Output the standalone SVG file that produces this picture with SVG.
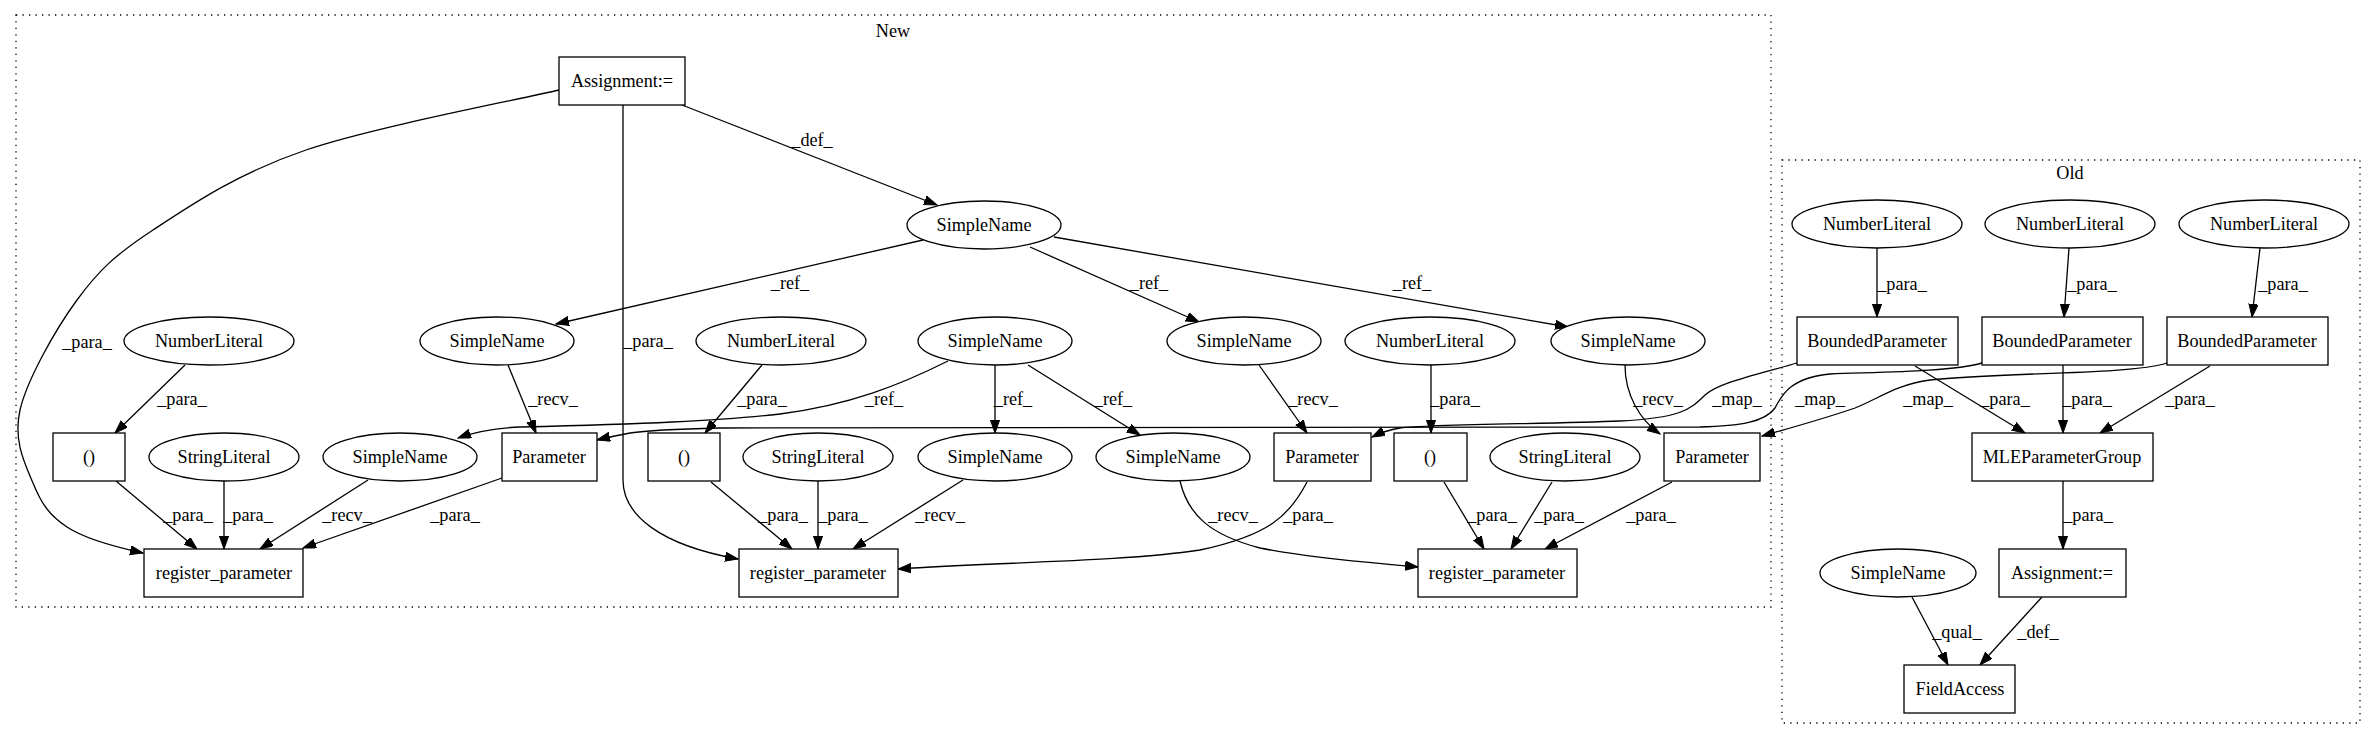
<svg xmlns="http://www.w3.org/2000/svg" width="2376" height="740" viewBox="0 0 2376 740">
<style>
text{font-family:"Liberation Serif","Times New Roman",serif;font-size:18.2px;fill:#000;text-anchor:middle}
.n rect,.n ellipse{fill:#fff;stroke:#000;stroke-width:1.3}
.e path{fill:none;stroke:#000;stroke-width:1.3;marker-end:url(#ah)}
.cl{fill:none;stroke:#000;stroke-width:1.3;stroke-dasharray:1.3,5.2}
</style>
<defs>
<marker id="ah" markerUnits="userSpaceOnUse" markerWidth="14" markerHeight="10" refX="13" refY="4.6" orient="auto">
<path d="M0,0 L13,4.6 L0,9.2 z" fill="#000" stroke="#000" stroke-width="1"/>
</marker>
</defs>
<rect width="2376" height="740" fill="#fff"/>
<g id="cluster_new"><rect class="cl" x="16" y="15" width="1755" height="592"/><text x="893" y="37">New</text></g>
<g id="cluster_old"><rect class="cl" x="1782" y="160" width="578" height="563"/><text x="2070" y="179">Old</text></g>

<g id="edges" class="e">
<path d="M682,105 L937,205"/>
<path d="M559,90 C517,100 374,127 306,150 C238,173 191,205 153,230 C115,255 99,270 77,300 C55,330 27,380 20,410 C13,441 25,464 33,483 C41,503 49,515 67,527 C85,539 120,548 143,553"/>
<path d="M623,105 L623,480 C623,515 660,545 738,559"/>
<path d="M923,240 L556,324"/>
<path d="M1030,247 L1199,322"/>
<path d="M1054,237 L1568,327"/>
<path d="M185,365 L115,433"/>
<path d="M508,365 L536,433"/>
<path d="M762,365 L705,433"/>
<path d="M948,361 C900,385 850,405 780,414 C720,421 640,424 520,427 C495,428 475,432 458,438"/>
<path d="M995,365 L995,433"/>
<path d="M1028,365 L1140,435"/>
<path d="M1259,365 L1307,433"/>
<path d="M1431,365 L1431,433"/>
<path d="M1625,365 C1625,395 1640,420 1660,434"/>
<path d="M116,481 L197,549"/>
<path d="M224,481 L224,549"/>
<path d="M368,480 L260,549"/>
<path d="M502,478 L303,548"/>
<path d="M711,482 L792,549"/>
<path d="M818,481 L818,549"/>
<path d="M963,480 L853,549"/>
<path d="M1307,482 C1290,515 1270,535 1200,550 C1120,562 1000,562 898,569"/>
<path d="M1180,481 C1188,515 1210,535 1260,548 C1320,560 1380,563 1418,567"/>
<path d="M1444,482 L1484,549"/>
<path d="M1552,482 L1511,549"/>
<path d="M1672,482 L1545,549"/>
<path d="M1877,248 L1877,317"/>
<path d="M2069,248 L2064,317"/>
<path d="M2260,248 L2252,317"/>
<path d="M1915,366 L2025,433"/>
<path d="M2063,365 L2063,433"/>
<path d="M2210,366 L2100,433"/>
<path d="M2063,481 L2063,549"/>
<path d="M1912,597 L1948,665"/>
<path d="M2042,597 L1980,665"/>
<path d="M1797,363 C1760,374 1720,382 1705,395 C1690,410 1680,418 1620,421 C1550,424 1430,424 1400,428 C1388,430 1380,433 1372,437"/>
<path d="M1982,363 C1950,372 1880,372 1830,374 C1790,378 1782,395 1775,408 C1765,422 1740,426 1700,427 L720,428 C680,429 650,430 630,433 C615,436 605,438 597,440"/>
<path d="M2167,363 C2130,375 2000,372 1930,380 C1895,385 1880,398 1855,408 C1820,420 1790,428 1762,436"/>
</g>

<g id="edge_labels">
<text x="812" y="146">_def_</text>
<text x="87" y="348">_para_</text>
<text x="648" y="347">_para_</text>
<text x="790" y="289">_ref_</text>
<text x="1149" y="289">_ref_</text>
<text x="1412" y="289">_ref_</text>
<text x="182" y="405">_para_</text>
<text x="553" y="405">_recv_</text>
<text x="762" y="405">_para_</text>
<text x="884" y="405">_ref_</text>
<text x="1013" y="405">_ref_</text>
<text x="1113" y="405">_ref_</text>
<text x="1313" y="405">_recv_</text>
<text x="1455" y="405">_para_</text>
<text x="1658" y="405">_recv_</text>
<text x="1737" y="405">_map_</text>
<text x="1820" y="405">_map_</text>
<text x="1928" y="405">_map_</text>
<text x="188" y="521">_para_</text>
<text x="248" y="521">_para_</text>
<text x="347" y="521">_recv_</text>
<text x="455" y="521">_para_</text>
<text x="783" y="521">_para_</text>
<text x="843" y="521">_para_</text>
<text x="940" y="521">_recv_</text>
<text x="1233" y="521">_recv_</text>
<text x="1308" y="521">_para_</text>
<text x="1492" y="521">_para_</text>
<text x="1559" y="521">_para_</text>
<text x="1651" y="521">_para_</text>
<text x="1902" y="290">_para_</text>
<text x="2092" y="290">_para_</text>
<text x="2283" y="290">_para_</text>
<text x="2005" y="405">_para_</text>
<text x="2087" y="405">_para_</text>
<text x="2190" y="405">_para_</text>
<text x="2088" y="521">_para_</text>
<text x="1957" y="638">_qual_</text>
<text x="2038" y="638">_def_</text>
</g>

<g id="n_assign" class="n"><rect x="559" y="57" width="126" height="48"/><text x="622" y="87">Assignment:=</text></g>
<g id="n_sn_top" class="n"><ellipse cx="984" cy="225" rx="77" ry="24"/><text x="984" y="231">SimpleName</text></g>
<g id="n_nl1" class="n"><ellipse cx="209" cy="341" rx="85" ry="24"/><text x="209" y="347">NumberLiteral</text></g>
<g id="n_sn_a" class="n"><ellipse cx="497" cy="341" rx="77" ry="24"/><text x="497" y="347">SimpleName</text></g>
<g id="n_nl2" class="n"><ellipse cx="781" cy="341" rx="85" ry="24"/><text x="781" y="347">NumberLiteral</text></g>
<g id="n_sn_mid" class="n"><ellipse cx="995" cy="341" rx="77" ry="24"/><text x="995" y="347">SimpleName</text></g>
<g id="n_sn_b" class="n"><ellipse cx="1244" cy="341" rx="77" ry="24"/><text x="1244" y="347">SimpleName</text></g>
<g id="n_nl3" class="n"><ellipse cx="1430" cy="341" rx="85" ry="24"/><text x="1430" y="347">NumberLiteral</text></g>
<g id="n_sn_c" class="n"><ellipse cx="1628" cy="341" rx="77" ry="24"/><text x="1628" y="347">SimpleName</text></g>
<g id="n_call1" class="n"><rect x="53" y="433" width="72" height="48"/><text x="89" y="463">()</text></g>
<g id="n_sl1" class="n"><ellipse cx="224" cy="457" rx="75" ry="24"/><text x="224" y="463">StringLiteral</text></g>
<g id="n_sn_d" class="n"><ellipse cx="400" cy="457" rx="77" ry="24"/><text x="400" y="463">SimpleName</text></g>
<g id="n_param1" class="n"><rect x="502" y="433" width="95" height="48"/><text x="549" y="463">Parameter</text></g>
<g id="n_call2" class="n"><rect x="648" y="433" width="72" height="48"/><text x="684" y="463">()</text></g>
<g id="n_sl2" class="n"><ellipse cx="818" cy="457" rx="75" ry="24"/><text x="818" y="463">StringLiteral</text></g>
<g id="n_sn_e" class="n"><ellipse cx="995" cy="457" rx="77" ry="24"/><text x="995" y="463">SimpleName</text></g>
<g id="n_sn_f" class="n"><ellipse cx="1173" cy="457" rx="77" ry="24"/><text x="1173" y="463">SimpleName</text></g>
<g id="n_param2" class="n"><rect x="1274" y="433" width="97" height="48"/><text x="1322" y="463">Parameter</text></g>
<g id="n_call3" class="n"><rect x="1394" y="433" width="73" height="48"/><text x="1430" y="463">()</text></g>
<g id="n_sl3" class="n"><ellipse cx="1565" cy="457" rx="75" ry="24"/><text x="1565" y="463">StringLiteral</text></g>
<g id="n_param3" class="n"><rect x="1664" y="433" width="96" height="48"/><text x="1712" y="463">Parameter</text></g>
<g id="n_reg1" class="n"><rect x="144" y="549" width="159" height="48"/><text x="224" y="579">register_parameter</text></g>
<g id="n_reg2" class="n"><rect x="739" y="549" width="159" height="48"/><text x="818" y="579">register_parameter</text></g>
<g id="n_reg3" class="n"><rect x="1418" y="549" width="159" height="48"/><text x="1497" y="579">register_parameter</text></g>

<g id="o_nl1" class="n"><ellipse cx="1877" cy="224" rx="85" ry="24"/><text x="1877" y="230">NumberLiteral</text></g>
<g id="o_nl2" class="n"><ellipse cx="2070" cy="224" rx="85" ry="24"/><text x="2070" y="230">NumberLiteral</text></g>
<g id="o_nl3" class="n"><ellipse cx="2264" cy="224" rx="85" ry="24"/><text x="2264" y="230">NumberLiteral</text></g>
<g id="o_bp1" class="n"><rect x="1797" y="317" width="161" height="48"/><text x="1877" y="347">BoundedParameter</text></g>
<g id="o_bp2" class="n"><rect x="1982" y="317" width="161" height="48"/><text x="2062" y="347">BoundedParameter</text></g>
<g id="o_bp3" class="n"><rect x="2167" y="317" width="161" height="48"/><text x="2247" y="347">BoundedParameter</text></g>
<g id="o_mle" class="n"><rect x="1972" y="433" width="181" height="48"/><text x="2062" y="463">MLEParameterGroup</text></g>
<g id="o_sn" class="n"><ellipse cx="1898" cy="573" rx="78" ry="24"/><text x="1898" y="579">SimpleName</text></g>
<g id="o_assign" class="n"><rect x="1999" y="549" width="127" height="48"/><text x="2062" y="579">Assignment:=</text></g>
<g id="o_fa" class="n"><rect x="1904" y="665" width="111" height="48"/><text x="1960" y="695">FieldAccess</text></g>
</svg>
